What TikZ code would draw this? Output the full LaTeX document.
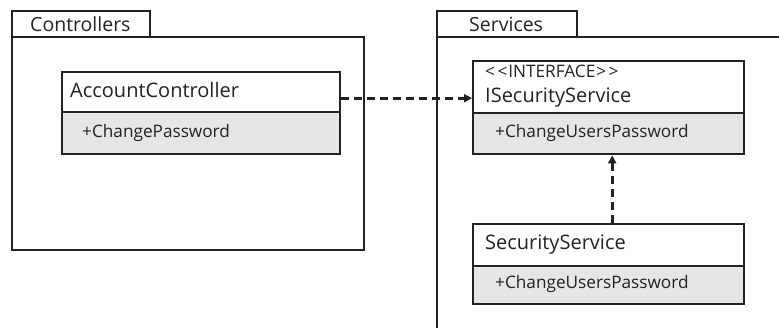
\documentclass[tikz,border=0pt]{standalone}
\usepackage{fontspec}
\setmainfont{Open Sans}
\usetikzlibrary{arrows.meta}
\definecolor{ln}{HTML}{222222}
\definecolor{membg}{HTML}{E6E6E8}
\begin{document}
\begin{tikzpicture}[x=1pt,y=-1pt,
  pkg/.style={draw=ln,line width=2.4pt,inner sep=0pt,anchor=north west},
  hdr/.style={draw=ln,line width=2.4pt,fill=white,inner sep=0pt,anchor=north west,minimum width=271pt},
  mem/.style={draw=ln,line width=2.4pt,fill=membg,inner sep=0pt,anchor=north west,minimum width=271pt},
  cname/.style={anchor=base west,inner sep=0pt,font=\fontsize{20}{22}\selectfont,text=ln},
  mname/.style={anchor=base west,inner sep=0pt,font=\fontsize{17.2}{19}\selectfont,text=ln},
  pname/.style={anchor=base west,inner sep=0pt,font=\fontsize{19.5}{21}\selectfont,text=ln},
  dep/.style={draw=ln,line width=2.7pt,dash pattern=on 8pt off 5pt,-{Triangle[length=8pt,width=8pt]}}]
\useasboundingbox (0,0) rectangle (779,328);
\fill[white] (0,0) rectangle (779,328);
% Controllers package
\node[pkg,minimum width=352pt,minimum height=213pt] (cbox) at (11,36) {};
\node[pkg,minimum width=138pt,minimum height=26pt] (ctab) at (11,10) {};
\node[pname] (ctabt) at (30,32) {Controllers};
% Services package
\begin{scope}
\clip (0,0) rectangle (779,328);
\node[pkg,minimum width=360pt,minimum height=310pt] (sbox) at (436,36) {};
\end{scope}
\node[pkg,minimum width=140pt,minimum height=26pt] (stab) at (436,10) {};
\node[pname] (stabt) at (469,32) {Services};
% AccountController
\node[hdr,minimum width=278pt,minimum height=40pt] (acch) at (61,71) {};
\node[mem,minimum width=278pt,minimum height=42pt] (accb) at (61,111) {};
\node[cname] (accht) at (70,98) {AccountController};
\node[mname] (accbt) at (82,138) {+ChangePassword};
% ISecurityService
\node[hdr,minimum height=52pt] (isech) at (472,60) {};
\node[mem,minimum height=41pt] (isecb) at (472,112) {};
\node[mname] (isecst) at (485,78) {{<}\kern2.5pt{<}\kern1pt INTERFACE\kern1pt{>}\kern2.5pt{>}};
\node[cname] (isecht) at (485,103) {ISecurityService};
\node[mname] (isecbt) at (495,138) {+ChangeUsersPassword};
% SecurityService
\node[hdr,minimum height=42pt] (sech) at (472,223) {};
\node[mem,minimum height=38pt] (secb) at (472,265) {};
\node[cname] (secht) at (485,250) {SecurityService};
\node[mname] (secbt) at (495,289) {+ChangeUsersPassword};
% connectors
\coordinate (a1) at ([yshift=-6pt]acch.east);
\draw[dep] (a1) -- (a1 -| isech.west);
\coordinate (a2) at ([xshift=3.5pt]sech.north);
\draw[dep] (a2) -- (a2 |- isecb.south);
\end{tikzpicture}
\end{document}
